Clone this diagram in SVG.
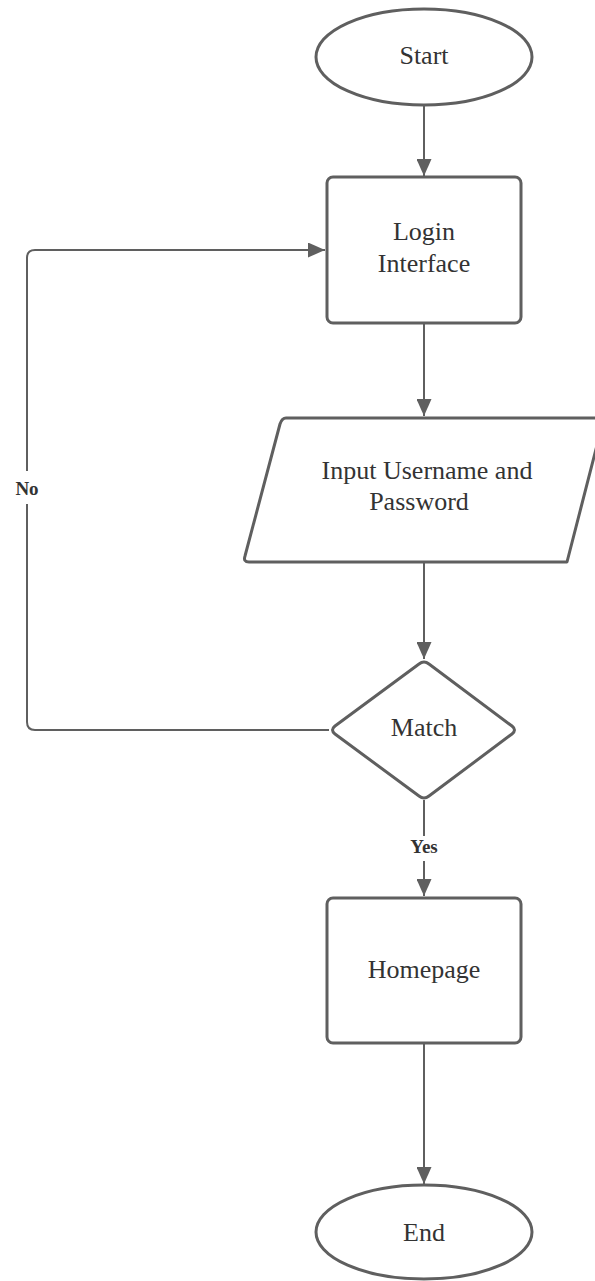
<svg xmlns="http://www.w3.org/2000/svg" width="595" height="1281" viewBox="0 0 595 1281">
  <style>
    .shape { fill: #ffffff; stroke: #5f5f5f; stroke-width: 3; stroke-linejoin: round; }
    .link { fill: none; stroke: #5f5f5f; stroke-width: 2; }
    .txt { font-family: "Liberation Serif", "DejaVu Serif", serif; font-size: 26px; fill: #333333; text-anchor: middle; }
    .lbl { font-family: "Liberation Serif", "DejaVu Serif", serif; font-size: 19px; font-weight: bold; fill: #333333; text-anchor: middle; }
  </style>
  <defs>
    <marker id="arrow" viewBox="0 0 17 15" refX="17" refY="7.5" markerWidth="17" markerHeight="15" markerUnits="userSpaceOnUse" orient="auto">
      <path d="M0,0 L17,7.5 L0,15 Z" fill="#5f5f5f"/>
    </marker>
  </defs>
  <rect width="595" height="1281" fill="#ffffff"/>

  <g id="connectors">
    <path class="link" d="M424,106 V176" marker-end="url(#arrow)"/>
    <path class="link" d="M424,324 V416" marker-end="url(#arrow)"/>
    <path class="link" d="M424,563 V659" marker-end="url(#arrow)"/>
    <path class="link" d="M329,730 H35 Q27,730 27,722 V258 Q27,250 35,250 H325" marker-end="url(#arrow)"/>
    <path class="link" d="M424,800 V896" marker-end="url(#arrow)"/>
    <path class="link" d="M424,1044 V1184" marker-end="url(#arrow)"/>
    <rect x="10" y="471" width="34" height="33" fill="#ffffff"/>
    <text class="lbl" x="27" y="495">No</text>
    <rect x="402" y="836" width="44" height="25" fill="#ffffff"/>
    <text class="lbl" x="424" y="853">Yes</text>
  </g>

  <g id="start">
    <ellipse class="shape" cx="424" cy="57" rx="108" ry="48"/>
    <text class="txt" x="424" y="64">Start</text>
  </g>

  <g id="login">
    <rect class="shape" x="327" y="177" width="194" height="146" rx="6"/>
    <text class="txt" x="424" y="240">Login</text>
    <text class="txt" x="424" y="272">Interface</text>
  </g>

  <g id="input">
    <path class="shape" d="M286,418 H604 L567,562 H249 Q243,562 245,556 L280,424 Q282,418 286,418 Z"/>
    <text class="txt" x="427" y="479">Input Username and</text>
    <text class="txt" x="419" y="510">Password</text>
  </g>

  <g id="match">
    <path class="shape" d="M419,664 Q424,660 429,664 L512,726 Q517,730 512,734 L429,796 Q424,800 419,796 L335,734 Q330,730 335,726 Z"/>
    <text class="txt" x="424" y="736">Match</text>
  </g>

  <g id="homepage">
    <rect class="shape" x="327" y="898" width="194" height="145" rx="6"/>
    <text class="txt" x="424" y="978">Homepage</text>
  </g>

  <g id="end">
    <ellipse class="shape" cx="424" cy="1232" rx="108" ry="47"/>
    <text class="txt" x="424" y="1241">End</text>
  </g>
</svg>
